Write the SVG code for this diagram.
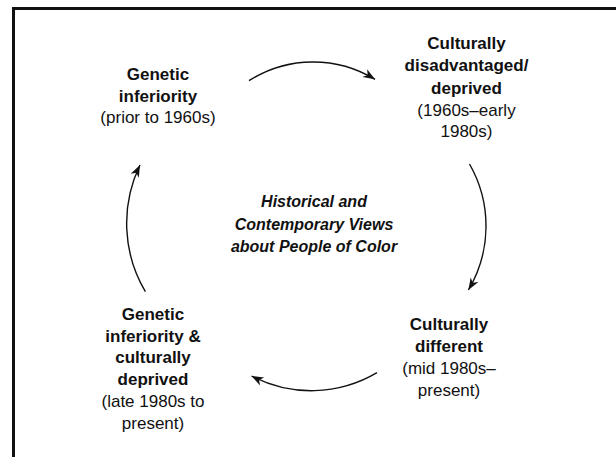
<svg xmlns="http://www.w3.org/2000/svg" width="616" height="457" viewBox="0 0 616 457">
<style>
  text { font-family: "Liberation Sans", Arial, sans-serif; fill: #111; text-anchor: middle; }
  .n { font-size: 17px; }
  .b { font-weight: bold; }
  .c { font-size: 16px; font-weight: bold; font-style: italic; }
  .arc { fill: none; stroke: #111; stroke-width: 1.4; marker-end: url(#ah); }
</style>
<defs>
  <marker id="ah" markerUnits="userSpaceOnUse" markerWidth="16" markerHeight="12" viewBox="-14 -6 16 12" refX="0" refY="0" orient="auto">
    <path d="M0,0 L-12,-4.5 L-8.5,0 L-12,4.5 Z" fill="#111"/>
  </marker>
</defs>
<rect width="616" height="457" fill="#fff"/>
<path d="M13.5,457 V8.5 H616" fill="none" stroke="#111" stroke-width="3" stroke-linejoin="miter"/>

<g id="connectors">
  <path class="arc" d="M249,80.7 A119,119 0 0 1 375,79.3"/>
  <path class="arc" d="M469.5,164 A125,125 0 0 1 468.4,290"/>
  <path class="arc" d="M377,372.7 A129,129 0 0 1 251.5,376"/>
  <path class="arc" d="M145.4,291.7 A134,134 0 0 1 140,165"/>
</g>

<g id="node-genetic">
  <text class="n b" x="158" y="80">Genetic</text>
  <text class="n b" x="158" y="101.5">inferiority</text>
  <text class="n" x="158" y="123">(prior to 1960s)</text>
</g>

<g id="node-culturally-disadvantaged">
  <text class="n b" x="466.5" y="49">Culturally</text>
  <text class="n b" x="466.5" y="71">disadvantaged/</text>
  <text class="n b" x="466.5" y="93.5">deprived</text>
  <text class="n" x="466.5" y="115.5">(1960s–early</text>
  <text class="n" x="466.5" y="137">1980s)</text>
</g>

<g id="node-center">
  <text class="c" x="314" y="207">Historical and</text>
  <text class="c" x="314" y="229.5">Contemporary Views</text>
  <text class="c" x="314" y="252">about People of Color</text>
</g>

<g id="node-culturally-different">
  <text class="n b" x="449" y="330">Culturally</text>
  <text class="n b" x="449" y="352">different</text>
  <text class="n" x="449" y="374">(mid 1980s–</text>
  <text class="n" x="449" y="396">present)</text>
</g>

<g id="node-genetic-cultural">
  <text class="n b" x="153" y="320">Genetic</text>
  <text class="n b" x="153" y="341.5">inferiority &amp;</text>
  <text class="n b" x="153" y="363">culturally</text>
  <text class="n b" x="153" y="385">deprived</text>
  <text class="n" x="153" y="407">(late 1980s to</text>
  <text class="n" x="153" y="428.5">present)</text>
</g>
</svg>
